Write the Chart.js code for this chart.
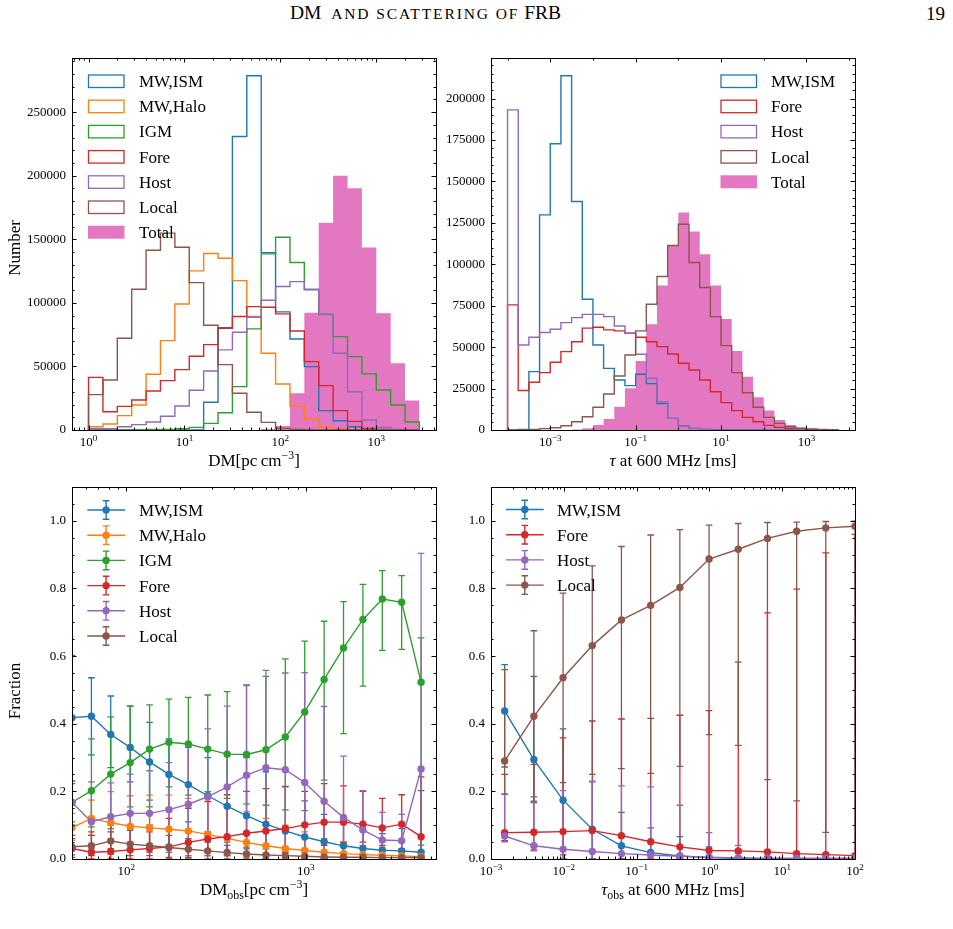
<!DOCTYPE html>
<html>
<head>
<meta charset="utf-8">
<script src="https://cdn.jsdelivr.net/npm/chart.js@4.4.1/dist/chart.umd.min.js"></script>
<style>
  body { margin: 0; background: #fff; width: 953px; height: 929px; overflow: hidden; position: relative; font-family: "Liberation Serif", serif; }
  canvas { position: absolute; left: 0; top: 0; }
  #head { position: absolute; left: 290px; top: 3px; font-size: 19.5px; line-height: 19px; white-space: nowrap; color: #000; }
  #head .sc { font-size: 15.5px; letter-spacing: 1.9px; text-transform: uppercase; }
  #pageno { position: absolute; left: 926px; top: 4px; font-size: 19px; line-height: 19px; color: #000; }
</style>
</head>
<body>
<div id="head">DM&nbsp; <span class="sc">and scattering of</span>&nbsp;FRB</div>
<div id="pageno">19</div>
<canvas id="c1" width="953" height="929"></canvas>
<canvas id="c2" width="953" height="929"></canvas>
<canvas id="c3" width="953" height="929"></canvas>
<canvas id="c4" width="953" height="929"></canvas>
<script>
// ---------- top left: DM histograms ----------
const dmEdges = [1, 1.413, 1.995, 2.818, 3.981, 5.623, 7.943, 11.22, 15.85, 22.39, 31.62, 44.67,
  63.10, 89.13, 125.9, 177.8, 251.2, 354.8, 501.2, 708.0, 1000, 1413, 1995, 2818];
const dmMWISM = [0, 0, 0, 0, 0, 0, 0, 0, 21800, 80500, 230800, 278600, 139500, 92900, 71600, 49800, 15200, 7300, 2600, 1300, 500, 0, 0];
const dmHalo  = [2600, 4700, 11300, 19700, 43800, 70300, 99100, 125100, 138800, 135100, 117500, 89200, 60300, 36200, 18900, 8700, 2600, 1000, 300, 0, 0, 0, 0];
const dmIGM   = [0, 0, 0, 0, 500, 500, 1000, 2100, 5200, 13600, 34100, 79500, 138500, 151600, 131700, 110200, 90800, 73400, 57700, 44100, 31500, 19700, 6300];
const dmFore  = [41400, 14400, 18600, 23600, 30700, 38800, 47500, 58000, 67100, 80000, 89200, 97000, 96500, 91300, 77900, 53800, 34900, 15200, 6800, 1000, 0, 0, 0];
const dmHost  = [1000, 1000, 2600, 4200, 6300, 10800, 18900, 31200, 46400, 63000, 76900, 88700, 102000, 112800, 116700, 110700, 91000, 60300, 30100, 7900, 2100, 500, 0];
const dmLocal = [27800, 39300, 72100, 110700, 141400, 154800, 143700, 115900, 82400, 51400, 28900, 13900, 6000, 1300, 500, 0, 0, 0, 0, 0, 0, 0, 0];
const dmTotal = [0, 0, 0, 0, 0, 0, 0, 0, 0, 0, 0, 0, 800, 3200, 28900, 92300, 163000, 199900, 190200, 143500, 91800, 52500, 23100];

// ---------- top right: scattering time histograms ----------
const tauEdges = [1e-4, 1.778e-4, 3.162e-4, 5.623e-4, 1e-3, 1.778e-3, 3.162e-3, 5.623e-3, 0.01, 0.01778, 0.03162, 0.05623,
  0.1, 0.1778, 0.3162, 0.5623, 1, 1.778, 3.162, 5.623, 10, 17.78, 31.62, 56.23, 100, 177.8, 316.2, 562.3, 1000, 1778, 3162, 5623];
const tauMWISM = [0, 400, 35200, 129800, 172700, 213800, 137900, 78900, 51300, 37200, 30200, 26800, 33600, 28000, 16000, 7000, 2500, 1000, 400, 200, 100, 0, 0, 0, 0, 0, 0, 0, 0, 0, 0];
const tauFore  = [75500, 23800, 28800, 34600, 40900, 47300, 53300, 61500, 62000, 60400, 59800, 58400, 56000, 53300, 50300, 45900, 40300, 36200, 30200, 23100, 16500, 11700, 7600, 5000, 2800, 1600, 800, 300, 100, 0, 0];
const tauHost  = [193200, 51300, 56000, 58800, 60800, 64800, 67800, 69800, 69800, 68400, 62800, 58400, 45700, 31200, 17000, 7000, 2500, 800, 300, 100, 0, 0, 0, 0, 0, 0, 0, 0, 0, 0, 0];
const tauLocal = [0, 0, 400, 800, 1400, 2600, 5000, 8000, 13700, 21700, 32600, 45300, 59800, 75900, 92600, 111300, 124200, 101100, 86000, 68400, 50900, 34600, 22500, 13700, 7600, 4000, 2000, 1000, 600, 400, 100];
const tauTotal = [0, 0, 0, 0, 0, 0, 300, 1000, 3000, 6600, 14100, 25200, 41700, 63800, 87200, 111300, 131200, 119800, 106100, 87200, 67000, 47700, 32200, 19700, 11700, 6000, 3000, 1600, 800, 300, 100];

// ---------- bottom left: fractions vs DM_obs (value, lower, upper) ----------
const blDM = [49.9, 64.0, 82.0, 105.2, 134.9, 173.0, 221.8, 284.4, 364.8, 467.7, 599.8, 769.1, 986.3, 1265, 1622, 2080, 2667, 3420, 4385];
const blMWISM   = [0.418, 0.422, 0.368, 0.330, 0.287, 0.250, 0.220, 0.187, 0.156, 0.128, 0.103, 0.083, 0.065, 0.051, 0.039, 0.031, 0.026, 0.024, 0.020];
const blMWISMLo = [0.230, 0.308, 0.270, 0.228, 0.174, 0.150, 0.110, 0.080, 0.050, 0.030, 0.010, 0, 0, 0, 0, 0, 0, 0, 0];
const blMWISMHi = [0.602, 0.536, 0.482, 0.452, 0.404, 0.355, 0.330, 0.300, 0.313, 0.300, 0.258, 0.213, 0.172, 0.132, 0.105, 0.085, 0.075, 0.090, 0.202];
const blHalo   = [0.093, 0.120, 0.107, 0.097, 0.092, 0.088, 0.083, 0.073, 0.061, 0.049, 0.039, 0.031, 0.025, 0.020, 0.016, 0.013, 0.011, 0.009, 0.007];
const blHaloLo = [0.055, 0.070, 0.060, 0.050, 0.040, 0.035, 0.030, 0.020, 0.010, 0.005, 0, 0, 0, 0, 0, 0, 0, 0, 0];
const blHaloHi = [0.135, 0.174, 0.199, 0.187, 0.189, 0.189, 0.179, 0.179, 0.160, 0.140, 0.120, 0.100, 0.080, 0.060, 0.050, 0.040, 0.035, 0.030, 0.025];
const blIGM   = [0.167, 0.202, 0.251, 0.285, 0.325, 0.345, 0.340, 0.325, 0.310, 0.309, 0.323, 0.361, 0.435, 0.531, 0.624, 0.708, 0.769, 0.759, 0.523];
const blIGMLo = [0.110, 0.095, 0.090, 0.154, 0.154, 0.213, 0.189, 0.199, 0.179, 0.162, 0.159, 0.145, 0.143, 0.233, 0.371, 0.511, 0.617, 0.620, 0.041];
const blIGMHi = [0.223, 0.355, 0.420, 0.452, 0.456, 0.473, 0.478, 0.485, 0.495, 0.515, 0.540, 0.592, 0.644, 0.703, 0.761, 0.812, 0.853, 0.838, 0.654];
const blFore   = [0.031, 0.020, 0.022, 0.027, 0.031, 0.036, 0.049, 0.059, 0.066, 0.076, 0.083, 0.090, 0.101, 0.109, 0.109, 0.103, 0.092, 0.103, 0.066];
const blForeLo = [0.005, 0, 0, 0, 0, 0, 0.005, 0.010, 0.010, 0.010, 0.010, 0.020, 0.030, 0.040, 0.050, 0.050, 0.040, 0.030, 0];
const blForeHi = [0.070, 0.070, 0.080, 0.090, 0.100, 0.120, 0.150, 0.170, 0.190, 0.200, 0.208, 0.215, 0.200, 0.223, 0.216, 0.200, 0.179, 0.190, 0.243];
const blHost   = [0.167, 0.110, 0.125, 0.135, 0.135, 0.146, 0.162, 0.184, 0.213, 0.248, 0.270, 0.264, 0.226, 0.171, 0.123, 0.086, 0.056, 0.054, 0.266];
const blHostLo = [0.100, 0.030, 0.030, 0.030, 0.020, 0.020, 0.010, 0.010, 0.010, 0.010, 0, 0, 0, 0, 0, 0, 0, 0, 0];
const blHostHi = [0.230, 0.228, 0.225, 0.251, 0.261, 0.285, 0.331, 0.385, 0.452, 0.513, 0.558, 0.550, 0.551, 0.451, 0.304, 0.202, 0.138, 0.132, 0.904];
const blLocal   = [0.036, 0.039, 0.053, 0.044, 0.039, 0.034, 0.029, 0.024, 0.019, 0.015, 0.012, 0.010, 0.008, 0.006, 0.005, 0.005, 0.004, 0.004, 0.004];
const blLocalLo = [0.012, 0.010, 0.015, 0.010, 0.010, 0.005, 0, 0, 0, 0, 0, 0, 0, 0, 0, 0, 0, 0, 0];
const blLocalHi = [0.060, 0.080, 0.100, 0.085, 0.080, 0.070, 0.060, 0.050, 0.040, 0.035, 0.030, 0.025, 0.020, 0.020, 0.015, 0.015, 0.012, 0.012, 0.012];

// ---------- bottom right: fractions vs tau_obs ----------
const brTau = [0.00154, 0.00388, 0.00977, 0.0246, 0.0619, 0.156, 0.393, 0.989, 2.49, 6.27, 15.8, 39.7, 100];
const brMWISM   = [0.438, 0.294, 0.174, 0.088, 0.039, 0.019, 0.009, 0.004, 0.002, 0.001, 0.001, 0.001, 0.001];
const brMWISMLo = [0.272, 0.167, 0, 0, 0, 0, 0, 0, 0, 0, 0, 0, 0];
const brMWISMHi = [0.575, 0.540, 0.385, 0.228, 0.138, 0.092, 0.066, 0.036, 0.017, 0.008, 0.005, 0.004, 0.004];
const brFore   = [0.078, 0.079, 0.081, 0.084, 0.069, 0.051, 0.036, 0.025, 0.024, 0.021, 0.016, 0.013, 0.010];
const brForeLo = [0.054, 0.027, 0.012, 0, 0, 0, 0, 0, 0, 0, 0, 0, 0];
const brForeHi = [0.250, 0.280, 0.358, 0.408, 0.414, 0.416, 0.425, 0.439, 0.582, 0.728, 0.798, 0.905, 0.960];
const brHost   = [0.068, 0.039, 0.029, 0.022, 0.016, 0.012, 0.008, 0.005, 0.003, 0.002, 0.002, 0.002, 0.002];
const brHostLo = [0.051, 0.024, 0, 0, 0, 0, 0, 0, 0, 0, 0, 0, 0];
const brHostHi = [0.192, 0.184, 0.202, 0.230, 0.216, 0.213, 0.159, 0.078, 0.040, 0.020, 0.012, 0.010, 0.010];
const brLocal   = [0.290, 0.422, 0.536, 0.631, 0.707, 0.750, 0.803, 0.887, 0.916, 0.948, 0.969, 0.979, 0.984];
const brLocalLo = [0.192, 0.171, 0.226, 0.250, 0.267, 0.253, 0.274, 0.368, 0.336, 0.235, 0.172, 0.079, 0.010];
const brLocalHi = [0.560, 0.675, 0.786, 0.867, 0.924, 0.958, 0.974, 0.987, 0.992, 0.995, 0.996, 0.998, 0.999];

const FONT = '"Liberation Serif", "Times New Roman", serif';
const COL = { blue: '#1f77b4', orange: '#ff7f0e', green: '#2ca02c', red: '#d62728', purple: '#9467bd', brown: '#8c564b', pink: '#e377c2' };
const PAGE_W = 953, PAGE_H = 929, Y_AXIS_W = 60, X_AXIS_H = 30;

// tick helpers (axis ticks only, not data)
function decades(a, b) { const out = []; for (let e = a; e <= b; e++) out.push(Math.pow(10, e)); return out; }
function logMinor(a, b) { const out = []; for (let e = a; e <= b; e++) for (let k = 2; k < 10; k++) out.push(k * Math.pow(10, e)); return out; }
function steps(a, b, s) { const out = []; for (let i = 0; a + i * s <= b + s * 1e-6; i++) out.push(+(a + i * s).toFixed(6)); return out; }
function expOf(v) { return String(Math.round(Math.log10(v))).replace('-', '\u2212'); }

function histData(edges, counts) {
  const pts = [{ x: edges[0], y: 0 }];
  counts.forEach((c, i) => pts.push({ x: edges[i], y: c }));
  pts.push({ x: edges[edges.length - 1], y: 0 });
  return pts;
}
function histSet(label, edges, counts, color, order) {
  return { label, data: histData(edges, counts), stepped: true, borderColor: color, borderWidth: 1.4,
           pointRadius: 0, fill: false, order, clip: 0 };
}
function totalSet(edges, counts) {
  return { label: 'Total', data: histData(edges, counts), stepped: true, borderColor: COL.pink, borderWidth: 0,
           backgroundColor: COL.pink, pointRadius: 0, fill: 'origin', order: 99, clip: 0 };
}
function errSet(label, xs, ys, lo, hi, color, order) {
  return { label, data: xs.map((x, i) => ({ x, y: ys[i] })), errLo: lo, errHi: hi,
           borderColor: color, backgroundColor: color, borderWidth: 1.4, pointRadius: 3.7,
           pointBorderWidth: 0, pointHoverRadius: 3.7, fill: false, order, clip: 0 };
}

// rich text runs (sub/superscripts) drawn on canvas
function drawRuns(ctx, runs, x, y, size, rot) {
  const fontOf = r => (r.it ? 'italic ' : '') + ((r.sup || r.sub) ? size * 0.7 : size) + 'px ' + FONT;
  let w = 0;
  const widths = runs.map(r => { ctx.font = fontOf(r); const m = ctx.measureText(r.t).width; w += m; return m; });
  ctx.save();
  ctx.translate(x, y);
  if (rot) ctx.rotate(-Math.PI / 2);
  ctx.fillStyle = '#000'; ctx.textAlign = 'left'; ctx.textBaseline = 'alphabetic';
  let cx = -w / 2;
  runs.forEach((r, i) => {
    ctx.font = fontOf(r);
    const dy = r.sup ? -size * 0.4 : r.sub ? size * 0.22 : 0;
    ctx.fillText(r.t, cx, dy);
    cx += widths[i];
  });
  ctx.restore();
}

// frame, inward ticks on all sides, and 10^n labels under the log x axis
function framePlugin(t) {
  return {
    id: 'frame',
    afterDraw(chart) {
      const { ctx, chartArea: a, scales: { x, y } } = chart;
      ctx.save();
      ctx.strokeStyle = '#000'; ctx.lineWidth = 1;
      const seg = (x1, y1, x2, y2) => { ctx.beginPath(); ctx.moveTo(x1, y1); ctx.lineTo(x2, y2); ctx.stroke(); };
      const xt = (vals, len) => vals.forEach(v => {
        const p = Math.round(x.getPixelForValue(v)) + 0.5;
        if (p < a.left || p > a.right) return;
        seg(p, a.bottom, p, a.bottom - len); seg(p, a.top, p, a.top + len);
      });
      const yt = (vals, len) => vals.forEach(v => {
        const p = Math.round(y.getPixelForValue(v)) + 0.5;
        if (p < a.top - 0.6 || p > a.bottom + 0.6) return;
        seg(a.left, p, a.left + len, p); seg(a.right, p, a.right - len, p);
      });
      xt(t.xMajor, 4.5); xt(t.xMinor, 2.5); yt(t.yMajor, 4.5); yt(t.yMinor, 2.5);
      ctx.strokeRect(Math.round(a.left) + 0.5, Math.round(a.top) + 0.5, Math.round(a.width), Math.round(a.height));
      ctx.restore();
      x.ticks.forEach(tk => {
        drawRuns(ctx, [{ t: '10' }, { t: expOf(tk.value), sup: true }], x.getPixelForValue(tk.value), a.bottom + 16, 13);
      });
    }
  };
}

const errorBarPlugin = {
  id: 'errorBars',
  beforeDatasetsDraw(chart) {
    const { ctx, chartArea: a, scales: { x, y } } = chart;
    ctx.save();
    ctx.beginPath(); ctx.rect(a.left, a.top, a.width, a.height); ctx.clip();
    chart.data.datasets.forEach(ds => {
      if (!ds.errLo) return;
      ctx.strokeStyle = ds.borderColor; ctx.lineWidth = 1.3;
      ds.data.forEach((p, i) => {
        const px = x.getPixelForValue(p.x);
        const lo = y.getPixelForValue(ds.errLo[i]), hi = y.getPixelForValue(ds.errHi[i]);
        ctx.beginPath();
        ctx.moveTo(px, lo); ctx.lineTo(px, hi);
        ctx.moveTo(px - 3.3, lo); ctx.lineTo(px + 3.3, lo);
        ctx.moveTo(px - 3.3, hi); ctx.lineTo(px + 3.3, hi);
        ctx.stroke();
      });
    });
    ctx.restore();
  }
};

function legendPlugin(L) {
  return {
    id: 'panelLegend',
    afterDatasetsDraw(chart) {
      const ctx = chart.ctx;
      ctx.save();
      L.items.forEach((it, k) => {
        const yc = L.y + k * L.dy;
        if (L.kind === 'hist') {
          if (it.fill) { ctx.fillStyle = it.color; ctx.fillRect(L.x, yc - 6.5, 36.5, 13); }
          else { ctx.strokeStyle = it.color; ctx.lineWidth = 1.3; ctx.strokeRect(L.x + 0.5, yc - 6, 35.5, 12.5); }
        } else {
          const mx = L.x + 18.8;
          ctx.strokeStyle = it.color; ctx.fillStyle = it.color; ctx.lineWidth = 1.4;
          ctx.beginPath();
          ctx.moveTo(L.x, yc); ctx.lineTo(L.x + 37.7, yc);
          ctx.moveTo(mx, yc - 9.3); ctx.lineTo(mx, yc + 9.3);
          ctx.moveTo(mx - 3.3, yc - 9.3); ctx.lineTo(mx + 3.3, yc - 9.3);
          ctx.moveTo(mx - 3.3, yc + 9.3); ctx.lineTo(mx + 3.3, yc + 9.3);
          ctx.stroke();
          ctx.beginPath(); ctx.arc(mx, yc, 3.7, 0, Math.PI * 2); ctx.fill();
        }
        ctx.fillStyle = '#000'; ctx.font = '17px ' + FONT; ctx.textAlign = 'left'; ctx.textBaseline = 'alphabetic';
        ctx.fillText(it.label, L.tx, yc + 6);
      });
      ctx.restore();
    }
  };
}

function titlePlugin(list) {
  return {
    id: 'axisTitles',
    afterDraw(chart) { list.forEach(t => drawRuns(chart.ctx, t.runs, t.x, t.y, 17, t.rot)); }
  };
}

function makeChart(id, box, o) {
  const tickFont = { family: FONT, size: 13 };
  return new Chart(document.getElementById(id), {
    type: 'line',
    data: { datasets: o.datasets },
    options: {
      responsive: false, animation: false, events: [],
      layout: { padding: { left: box.l - Y_AXIS_W, top: box.t, right: PAGE_W - box.r, bottom: PAGE_H - box.b - X_AXIS_H } },
      scales: {
        x: {
          type: 'logarithmic', min: o.xMin, max: o.xMax,
          afterBuildTicks: s => { s.ticks = o.xMajor.map(v => ({ value: v })); },
          afterFit: s => { s.height = X_AXIS_H; },
          grid: { display: false, drawTicks: false }, border: { display: false },
          ticks: { display: false, autoSkip: false }
        },
        y: {
          type: 'linear', min: o.yMin, max: o.yMax,
          afterBuildTicks: s => { s.ticks = o.yMajor.map(v => ({ value: v })); },
          afterFit: s => { s.width = Y_AXIS_W; },
          grid: { display: false, drawTicks: false }, border: { display: false },
          ticks: { callback: o.yFmt, font: tickFont, color: '#000', padding: 6, autoSkip: false }
        }
      },
      plugins: { legend: { display: false }, tooltip: { enabled: false } }
    },
    plugins: [framePlugin({ xMajor: o.xMajor, xMinor: o.xMinor, yMajor: o.yMajor, yMinor: o.yMinor }),
              errorBarPlugin, legendPlugin(o.legend), titlePlugin(o.titles)]
  });
}

const unitRuns = () => [{ t: '[pc\u2009cm' }, { t: '\u22123', sup: true }, { t: ']' }];

// top left
makeChart('c1', { l: 72, t: 58, r: 436, b: 430 }, {
  datasets: [
    histSet('MW,ISM', dmEdges, dmMWISM, COL.blue, 6),
    histSet('MW,Halo', dmEdges, dmHalo, COL.orange, 5),
    histSet('IGM', dmEdges, dmIGM, COL.green, 4),
    histSet('Fore', dmEdges, dmFore, COL.red, 3),
    histSet('Host', dmEdges, dmHost, COL.purple, 2),
    histSet('Local', dmEdges, dmLocal, COL.brown, 1),
    totalSet(dmEdges, dmTotal)
  ],
  xMin: 0.6724, xMax: 4193, xMajor: decades(0, 3), xMinor: logMinor(-1, 3),
  yMin: 0, yMax: 292530, yMajor: steps(0, 250000, 50000), yMinor: steps(0, 290000, 10000), yFmt: v => String(v),
  legend: { kind: 'hist', x: 88, tx: 139, y: 81, dy: 25.2, items: [
    { label: 'MW,ISM', color: COL.blue }, { label: 'MW,Halo', color: COL.orange }, { label: 'IGM', color: COL.green },
    { label: 'Fore', color: COL.red }, { label: 'Host', color: COL.purple }, { label: 'Local', color: COL.brown },
    { label: 'Total', color: COL.pink, fill: true } ] },
  titles: [
    { runs: [{ t: 'DM' }].concat(unitRuns()), x: 254, y: 466 },
    { runs: [{ t: 'Number' }], x: 20, y: 248, rot: true }
  ]
});

// top right
makeChart('c2', { l: 491, t: 58, r: 855, b: 430 }, {
  datasets: [
    histSet('MW,ISM', tauEdges, tauMWISM, COL.blue, 4),
    histSet('Fore', tauEdges, tauFore, COL.red, 3),
    histSet('Host', tauEdges, tauHost, COL.purple, 2),
    histSet('Local', tauEdges, tauLocal, COL.brown, 1),
    totalSet(tauEdges, tauTotal)
  ],
  xMin: 4.097e-5, xMax: 13725, xMajor: [1e-3, 1e-1, 1e1, 1e3], xMinor: [1e-4, 1e-2, 1, 1e2, 1e4],
  yMin: 0, yMax: 224490, yMajor: steps(0, 200000, 25000), yMinor: steps(0, 220000, 5000), yFmt: v => String(v),
  legend: { kind: 'hist', x: 720.5, tx: 771, y: 81, dy: 25.2, items: [
    { label: 'MW,ISM', color: COL.blue }, { label: 'Fore', color: COL.red }, { label: 'Host', color: COL.purple },
    { label: 'Local', color: COL.brown }, { label: 'Total', color: COL.pink, fill: true } ] },
  titles: [
    { runs: [{ t: '\u03c4', it: true }, { t: ' at 600 MHz [ms]' }], x: 673, y: 466 }
  ]
});

// bottom left
makeChart('c3', { l: 72, t: 487, r: 436, b: 859 }, {
  datasets: [
    errSet('MW,ISM', blDM, blMWISM, blMWISMLo, blMWISMHi, COL.blue, 6),
    errSet('MW,Halo', blDM, blHalo, blHaloLo, blHaloHi, COL.orange, 5),
    errSet('IGM', blDM, blIGM, blIGMLo, blIGMHi, COL.green, 4),
    errSet('Fore', blDM, blFore, blForeLo, blForeHi, COL.red, 3),
    errSet('Host', blDM, blHost, blHostLo, blHostHi, COL.purple, 2),
    errSet('Local', blDM, blLocal, blLocalLo, blLocalHi, COL.brown, 1)
  ],
  xMin: 49.9, xMax: 5310, xMajor: decades(2, 3), xMinor: logMinor(1, 3),
  yMin: 0, yMax: 1.1, yMajor: steps(0, 1, 0.2), yMinor: steps(0, 1.1, 0.05), yFmt: v => v.toFixed(1),
  legend: { kind: 'err', x: 87.3, tx: 139, y: 510, dy: 25.2, items: [
    { label: 'MW,ISM', color: COL.blue }, { label: 'MW,Halo', color: COL.orange }, { label: 'IGM', color: COL.green },
    { label: 'Fore', color: COL.red }, { label: 'Host', color: COL.purple }, { label: 'Local', color: COL.brown } ] },
  titles: [
    { runs: [{ t: 'DM' }, { t: 'obs', sub: true }].concat(unitRuns()), x: 254, y: 895 },
    { runs: [{ t: 'Fraction' }], x: 20, y: 691, rot: true }
  ]
});

// bottom right
makeChart('c4', { l: 491, t: 487, r: 855, b: 859 }, {
  datasets: [
    errSet('MW,ISM', brTau, brMWISM, brMWISMLo, brMWISMHi, COL.blue, 4),
    errSet('Fore', brTau, brFore, brForeLo, brForeHi, COL.red, 3),
    errSet('Host', brTau, brHost, brHostLo, brHostHi, COL.purple, 2),
    errSet('Local', brTau, brLocal, brLocalLo, brLocalHi, COL.brown, 1)
  ],
  xMin: 1e-3, xMax: 100, xMajor: decades(-3, 2), xMinor: logMinor(-3, 1),
  yMin: 0, yMax: 1.1, yMajor: steps(0, 1, 0.2), yMinor: steps(0, 1.1, 0.05), yFmt: v => v.toFixed(1),
  legend: { kind: 'err', x: 506, tx: 557, y: 509.5, dy: 25.2, items: [
    { label: 'MW,ISM', color: COL.blue }, { label: 'Fore', color: COL.red },
    { label: 'Host', color: COL.purple }, { label: 'Local', color: COL.brown } ] },
  titles: [
    { runs: [{ t: '\u03c4', it: true }, { t: 'obs', sub: true }, { t: ' at 600 MHz [ms]' }], x: 673, y: 895 }
  ]
});
</script>
</body>
</html>
